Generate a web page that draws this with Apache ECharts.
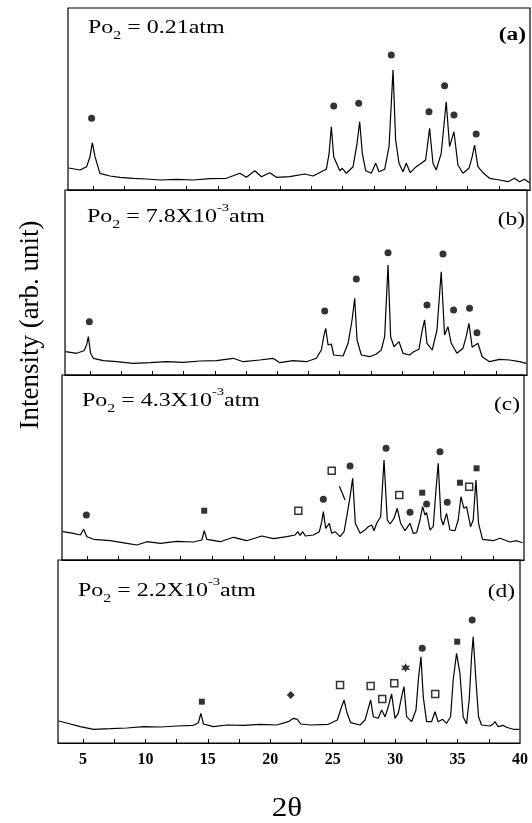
<html>
  <head>
    <meta charset="utf-8" />
    <title>XRD</title>
    <script src="https://cdn.jsdelivr.net/npm/echarts@6/dist/echarts.min.js"></script>
  </head>
  <body style="margin:0;background:#fff">
    <div id="main" style="width:532px;height:823px;"></div>
    <script type="text/javascript">
      // 2theta axis
      var xMin = 3, xMax = 40;
      var tickValues = [5, 7.5, 10, 12.5, 15, 17.5, 20, 22.5, 25, 27.5, 30, 32.5, 35, 37.5];
      var labelValues = [5, 10, 15, 20, 25, 30, 35, 40];

      // panel (a) Po2 = 0.21 atm   [2theta, intensity]
      var curveA = [[3.05,22],[3.96,20],[4.49,23.3],[4.76,33.3],[4.95,47.3],[5.16,33.3],[5.56,16.7],[6.36,14],[7.16,12.7],[8.23,11.7],[9.29,11],[10.36,10],[11.69,10.7],[13.03,10],[14.36,11.3],[15.69,11.7],[16.76,16.7],[17.29,12.7],[17.96,19.3],[18.49,13.3],[19.16,17.3],[19.69,12.7],[20.76,13.3],[21.96,16],[22.63,14],[23.29,18.3],[23.69,20.7],[23.91,36.7],[24.09,63.3],[24.28,33.3],[24.49,27.3],[24.76,19.3],[24.97,21.7],[25.29,16.7],[25.83,23.3],[26.15,46.7],[26.36,68.3],[26.57,36.7],[26.84,19.3],[27.29,16.7],[27.64,26.7],[27.91,18.3],[28.36,20.7],[28.71,43.3],[29.03,120],[29.24,50],[29.51,26.7],[29.83,18.3],[30.09,26.7],[30.41,17.3],[30.89,23.3],[31.29,26.7],[31.64,30],[31.96,61.7],[32.23,26.7],[32.49,20],[32.89,36.7],[33.29,88.3],[33.56,43.3],[33.91,58.3],[34.23,25],[34.63,16.7],[35.11,21.7],[35.37,33.3],[35.56,45],[35.83,23.3],[36.28,16.7],[36.76,11.7],[37.56,10],[38.23,8.3],[38.76,11.7],[39.16,8.3],[39.56,10.7],[39.96,7.3]];
      var dotsA = [[4.89,71.7],[24.28,84],[26.28,86.7],[28.89,135],[31.91,78.3],[33.16,104.3],[33.91,75],[35.69,56]];

      // panel (b) Po2 = 7.8x10^-3 atm
      var curveB = [[3.05,23.3],[3.93,21.7],[4.52,24.3],[4.73,30],[4.87,38.3],[5.05,21.7],[5.27,16.7],[6.07,14.3],[7.13,13.3],[8.47,11.7],[9.8,12.3],[11.13,13.3],[12.47,12.7],[13.8,14],[15.13,14.3],[16.47,16.7],[17.27,13.3],[18.6,15],[19.67,16.7],[20.2,12.3],[21.27,14.3],[22.33,13.3],[23.13,16.7],[23.53,25],[23.72,38.3],[23.88,46.7],[24.07,30],[24.2,28.3],[24.33,31],[24.52,20],[25.27,19],[25.67,31.7],[25.99,55],[26.2,76.7],[26.39,35],[26.73,20],[27.4,18.3],[27.93,21],[28.33,25],[28.6,38.3],[28.87,110],[29.08,38.3],[29.35,28.3],[29.75,33.3],[30.07,21.7],[30.6,20],[30.92,23.3],[31.35,25.7],[31.61,45],[31.8,55],[31.99,31.7],[32.41,25],[32.79,45],[33.13,103.3],[33.4,40],[33.67,48.3],[33.93,31.7],[34.39,21.7],[34.87,26.7],[35.13,38.3],[35.35,51.7],[35.61,27.7],[36.07,31.7],[36.41,18.3],[37,13.3],[37.8,15.7],[38.6,15],[39.4,13.3],[39.93,11.7]];
      var dotsB = [[4.95,53.3],[23.8,64],[26.33,96],[28.87,122.3],[31.99,70],[33.27,121],[34.12,65],[35.4,66.7],[35.99,42.3]];

      // panel (c) Po2 = 4.3x10^-3 atm
      var curveC = [[3.05,28.3],[3.93,26.7],[4.47,25],[4.73,30.7],[5,23.3],[5.53,20.7],[6.87,19.3],[8.2,16.7],[9,15],[9.8,18.3],[10.87,16.7],[12.2,18.7],[13.53,18],[14.2,20],[14.39,29.3],[14.6,20.7],[15.67,18.3],[16.73,22.7],[17.8,19.3],[19,24],[19.93,21.3],[21,23.3],[21.67,25],[21.88,28.3],[22.07,24.7],[22.28,28.3],[22.49,24],[23.13,25],[23.61,28.3],[23.8,38.3],[23.93,48.3],[24.12,31.7],[24.41,36.7],[24.6,26.7],[24.87,28.3],[25.27,23.3],[25.59,28.3],[25.85,46.7],[26.07,63.3],[26.28,81.7],[26.49,36.7],[26.87,26.7],[27.27,30],[27.53,33.3],[27.8,35],[27.99,29.3],[28.2,36.7],[28.52,43.3],[28.79,100],[29.05,40],[29.27,36],[29.59,41.7],[29.85,51.7],[30.12,36.7],[30.47,29.3],[30.87,36.7],[31.13,26.7],[31.4,27.3],[31.67,40],[31.88,53.3],[32.07,45],[32.2,47.3],[32.47,30],[32.73,33.3],[32.95,70],[33.13,96.7],[33.35,41.7],[33.53,35],[33.8,46.7],[34.07,30],[34.47,29.3],[34.73,40],[34.95,63.3],[35.19,51.7],[35.4,53.3],[35.72,33.3],[35.93,40],[36.15,80],[36.36,36.7],[36.68,20.7],[37.53,19.3],[38.07,21.7],[38.87,18],[39.4,19.3],[39.88,17.3]];
      var dotsC = [[4.95,45],[23.93,60.7],[26.07,94],[28.95,111.7],[30.87,47.7],[32.2,56],[33.27,108.3],[33.85,57.7]];
      var fsqC = [[14.39,49.3],[31.85,67.3],[34.87,77.3],[36.2,91.7]];
      var osqC = [[21.93,49.3],[24.6,89.3],[30.01,65],[35.61,73.3]];
      var leaderC = [[25.21,74],[25.67,60]];

      // panel (d) Po2 = 2.2x10^-3 atm
      var curveD = [[3.05,22],[3.99,19],[4.79,16.3],[5.85,13.7],[7.19,14.3],[8.52,15],[9.85,16.3],[11.19,16],[12.52,17],[13.85,17.7],[14.25,20.3],[14.44,29.7],[14.65,19],[15.45,16.3],[16.52,18],[17.85,17.7],[19.19,18.7],[20.52,18],[21.45,21.3],[21.85,24.7],[22.17,23.7],[22.44,19],[23.19,18],[24.65,18.7],[25.37,23],[25.67,34.7],[25.91,43],[26.12,31.3],[26.44,20.3],[27.19,18],[27.59,23],[27.85,34.7],[28.04,43],[28.25,26.3],[28.65,24.7],[28.92,33],[29.19,26.3],[29.45,36.3],[29.72,49],[29.99,24.7],[30.25,29.7],[30.52,46.3],[30.71,56.3],[30.92,26.3],[31.32,21.3],[31.67,33],[31.88,66.3],[32.07,86.3],[32.25,46.3],[32.52,21.3],[32.92,21.3],[33.19,31.3],[33.45,21.3],[33.8,23.7],[34.12,19.7],[34.44,26.3],[34.65,63],[34.92,89.7],[35.19,69.7],[35.45,26.3],[35.72,19],[35.93,43],[36.12,86.3],[36.25,106.3],[36.47,63],[36.68,26.3],[36.92,18],[37.59,17],[37.85,19],[37.99,21.3],[38.25,16.3],[38.65,17.7],[38.92,15.7],[39.45,13.7],[39.93,13.7]];
      var dotsD = [[32.17,94.7],[36.17,123]];
      var fsqD = [[14.52,41.3],[34.97,101.3]];
      var osqD = [[25.59,58],[28.04,57],[28.97,44],[29.93,59.7],[33.21,49]];
      var diamD = [[21.64,48]];
      var starD = [[30.84,75.3]];

      var panelText = [
        {sup: '', val: '0.21atm', tag: '(a)'},
        {val: '7.8X10', sup: '-3', tag: '(b)'},
        {val: '4.3X10', sup: '-3', tag: '(c)'},
        {val: '2.2X10', sup: '-3', tag: '(d)'}
      ];

      // panel boxes (scan is a little skewed, so each one sits slightly to the left)
      var boxes = [
        {left: 68, top: 8, height: 182, textX: 88, textY: 28, tagX: 526, tagY: 35},
        {left: 65, top: 190, height: 185, textX: 87, textY: 217, tagX: 525, tagY: 220},
        {left: 62, top: 375, height: 185, textX: 82, textY: 401, tagX: 520, tagY: 405},
        {left: 58, top: 560, height: 183, textX: 78, textY: 591, tagX: 515, tagY: 592}
      ];

      var ink = '#000';
      var serif = 'Liberation Serif';

      var myChart = echarts.init(document.getElementById('main'));

      var grid = [], xAxis = [], yAxis = [], series = [], texts = [];
      boxes.forEach(function (b, i) {
        grid.push({left: b.left, top: b.top, width: 462, height: b.height, show: true,
          borderColor: ink, borderWidth: 1.2});
        xAxis.push({
          type: 'value', gridIndex: i, min: xMin, max: xMax,
          axisLine: {show: true, onZero: false, lineStyle: {color: ink, width: 1.2}},
          axisTick: {show: true, inside: true, length: 4, customValues: tickValues, lineStyle: {color: ink}},
          axisLabel: {show: i === 3, customValues: labelValues, margin: 9, fontSize: 16,
            fontWeight: 'bold', fontFamily: serif, color: ink},
          splitLine: {show: false}
        });
        yAxis.push({type: 'value', gridIndex: i, min: 0, max: b.height, show: false});

        var t = panelText[i];
        var str = '{b|Po}{s|2}{b| = ' + t.val + '}' + (t.sup ? '{p|' + t.sup + '}{b|atm}' : '');
        texts.push({
          type: 'text', x: b.textX, y: b.textY, scaleX: 1.33,
          style: {
            text: str, textAlign: 'left', textVerticalAlign: 'middle', fill: ink,
            rich: {
              b: {fontSize: 18, fontFamily: serif, lineHeight: 28, verticalAlign: 'middle', color: ink},
              s: {fontSize: 12, fontFamily: serif, lineHeight: 12, verticalAlign: 'bottom', color: ink},
              p: {fontSize: 11, fontFamily: serif, lineHeight: 20, verticalAlign: 'top', color: ink}
            }
          }
        });
        texts.push({
          type: 'text', x: b.tagX, y: b.tagY, scaleX: 1.3,
          style: {text: t.tag, fontSize: 18, fontFamily: serif, fontWeight: i === 0 ? 'bold' : 'normal',
            fill: ink, textAlign: 'right', textVerticalAlign: 'middle'}
        });
      });

      var curves = [curveA, curveB, curveC, curveD];
      curves.forEach(function (c, i) {
        series.push({type: 'line', xAxisIndex: i, yAxisIndex: i, data: c, showSymbol: false,
          lineStyle: {color: ink, width: 1.2}, silent: true});
      });

      function marks(i, data, symbol, size, hollow) {
        series.push({type: 'scatter', xAxisIndex: i, yAxisIndex: i, data: data, symbol: symbol,
          symbolSize: size, z: 5,
          itemStyle: hollow ? {color: '#fff', borderColor: ink, borderWidth: 1.5} : {color: ink}});
      }
      var star = 'path://M0,-10L2.6,-4.5L8.7,-5L5.2,0L8.7,5L2.6,4.5L0,10L-2.6,4.5L-8.7,5L-5.2,0L-8.7,-5L-2.6,-4.5Z';
      marks(0, dotsA, 'circle', 7);
      marks(1, dotsB, 'circle', 7);
      marks(2, dotsC, 'circle', 7);
      marks(2, fsqC, 'rect', 6);
      marks(2, osqC, 'rect', 7, true);
      marks(3, dotsD, 'circle', 7);
      marks(3, fsqD, 'rect', 6);
      marks(3, osqD, 'rect', 7, true);
      marks(3, diamD, 'diamond', 8);
      marks(3, starD, star, 9);
      series.push({type: 'line', xAxisIndex: 2, yAxisIndex: 2, data: leaderC, showSymbol: false,
        lineStyle: {color: ink, width: 1.2}});

      texts.push({type: 'text', x: 31, y: 325, rotation: Math.PI / 2,
        style: {text: 'Intensity (arb. unit)', fontSize: 27, fontFamily: serif, fill: ink,
          textAlign: 'center', textVerticalAlign: 'middle'}});
      texts.push({type: 'text', x: 287, y: 809, scaleX: 1.15,
        style: {text: '2θ', fontSize: 27, fontFamily: serif, fill: ink,
          textAlign: 'center', textVerticalAlign: 'middle'}});

      var option = {
        animation: false,
        backgroundColor: '#fff',
        grid: grid,
        xAxis: xAxis,
        yAxis: yAxis,
        series: series,
        graphic: texts
      };
      myChart.setOption(option);
    </script>
  </body>
</html>
